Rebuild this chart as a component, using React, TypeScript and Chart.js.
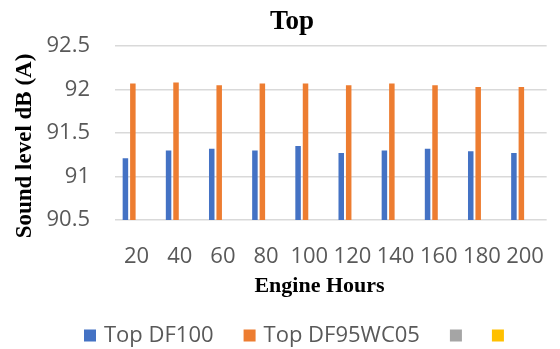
import React, { useEffect, useRef } from "react";
import { Chart, registerables } from "chart.js";

Chart.register(...registerables);

// Engine hours on the category axis
const engineHours = ["20", "40", "60", "80", "100", "120", "140", "160", "180", "200"];

// Sound level readings, dB (A)
const topDF100 = [91.21, 91.3, 91.32, 91.3, 91.35, 91.27, 91.3, 91.32, 91.29, 91.27];
const topDF95WC05 = [92.07, 92.08, 92.05, 92.07, 92.07, 92.05, 92.07, 92.05, 92.03, 92.03];
const emptySeries = [null, null, null, null, null, null, null, null, null, null];

const seriesNames = ["Top DF100", "Top DF95WC05", "", ""];
const seriesColors = ["#4472c4", "#ed7d31", "#a5a5a5", "#ffc000"];

// Value axis range
const yMin = 90.5;
const yMax = 92.5;
const yStep = 0.5;

const chartTitle = "Top";
const xAxisTitle = "Engine Hours";
const yAxisTitle = "Sound level dB (A)";

const tickFont = { family: "'Open Sans', sans-serif", size: 22 };
const tickColor = "#595959";
const serifBold = "'Liberation Serif', 'Times New Roman', serif";

// Titles and the legend row drawn straight onto the canvas
const textPlugin = {
  id: "chartText",
  afterDraw(chart: any) {
    const ctx: CanvasRenderingContext2D = chart.ctx;
    ctx.save();
    ctx.fillStyle = "#000000";
    ctx.textAlign = "center";
    ctx.textBaseline = "alphabetic";

    ctx.font = `bold 27px ${serifBold}`;
    ctx.fillText(chartTitle, 292, 29);

    ctx.font = `bold 22px ${serifBold}`;
    ctx.fillText(xAxisTitle, 319.5, 291.5);

    ctx.save();
    ctx.translate(31, 146);
    ctx.rotate(-Math.PI / 2);
    ctx.font = `bold 23px ${serifBold}`;
    ctx.fillText(yAxisTitle, 0, 0);
    ctx.restore();

    // legend
    ctx.font = `${tickFont.size}px ${tickFont.family}`;
    ctx.textAlign = "left";
    const box = 12;
    const boxGap = 8;
    const itemGap = 30;
    let x = 84;
    const baseline = 342;
    for (const ds of chart.data.datasets) {
      const label = ds.label as string;
      ctx.fillStyle = ds.backgroundColor as string;
      ctx.fillRect(x, 329.5, box, box);
      let w = box;
      if (label) {
        ctx.fillStyle = tickColor;
        ctx.fillText(label, x + box + boxGap, baseline);
        w += boxGap + ctx.measureText(label).width;
      }
      x += w + itemGap;
    }
    ctx.restore();
  },
};

export default function App() {
  const canvasRef = useRef<HTMLCanvasElement | null>(null);

  useEffect(() => {
    if (!canvasRef.current) return;
    const data = [topDF100, topDF95WC05, emptySeries, emptySeries];
    const chart = new Chart(canvasRef.current, {
      type: "bar",
      data: {
        labels: engineHours,
        datasets: data.map((values, i) => ({
          label: seriesNames[i],
          data: values,
          backgroundColor: seriesColors[i],
          borderWidth: 0,
          categoryPercentage: 0.69,
          barPercentage: 0.74,
        })),
      },
      options: {
        animation: false,
        responsive: true,
        maintainAspectRatio: false,
        layout: { padding: { top: 46, right: 1, bottom: 79, left: 0 } },
        plugins: {
          legend: { display: false },
          title: { display: false },
          tooltip: { enabled: false },
        },
        scales: {
          x: {
            grid: { display: false },
            border: { display: false },
            ticks: {
              font: tickFont,
              color: tickColor,
              padding: 16,
              maxRotation: 0,
              autoSkip: false,
            },
            afterFit: (scale: any) => {
              scale.height = 50;
            },
          },
          y: {
            min: yMin,
            max: yMax,
            border: { display: false },
            grid: { color: "#d9d9d9", lineWidth: 1.5, drawTicks: false },
            ticks: {
              stepSize: yStep,
              font: tickFont,
              color: tickColor,
              padding: 25,
              callback: (v: any) => String(Math.round(Number(v) * 10) / 10),
            },
            afterFit: (scale: any) => {
              scale.width = 115;
            },
          },
        },
      },
      plugins: [textPlugin],
    });
    return () => chart.destroy();
  }, []);

  return (
    <div style={{ position: "fixed", left: 0, top: 0, width: 560, height: 349, background: "#ffffff" }}>
      <canvas ref={canvasRef} style={{ display: "block" }} />
    </div>
  );
}
